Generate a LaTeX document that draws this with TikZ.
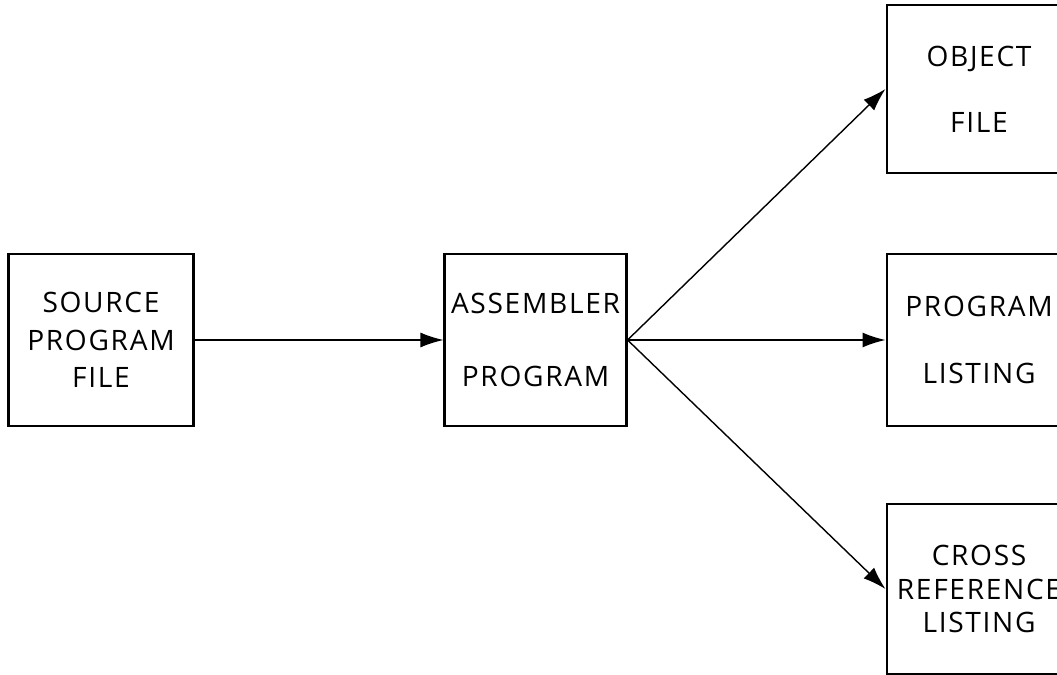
\documentclass[tikz,border=0pt]{standalone}
\usepackage{fontspec}
\setmainfont{Open Sans}[LetterSpace=6]
\usetikzlibrary{arrows.meta, positioning}

\begin{document}
\begin{tikzpicture}[
    x=0.02cm, y=-0.02cm,
    node distance=1.5cm,
    box/.style={draw, line width=1.2pt, minimum width=3.7cm, minimum height=3.44cm, inner sep=0pt, align=center, font=\fontsize{16}{21.5}\selectfont},
    flow/.style={-{Latex[length=0.46cm, width=0.3cm]}, line width=0.8pt}
]
\useasboundingbox (0,0) rectangle (1057,675);
\clip (0,0) rectangle (1057,675);

% Input
\node[box] (src) at (101,340) {SOURCE\\PROGRAM\\FILE};

% Assembler
\node[box, minimum width=3.64cm, right=4.98cm of src] (asm) {ASSEMBLER\\[0.72cm]PROGRAM};

% Outputs
\node[box, right=5.16cm of asm] (lst) {PROGRAM\\[0.58cm]LISTING};
\node[box, minimum height=3.36cm, above=1.58cm of lst] (obj) {OBJECT\\[0.56cm]FILE};
\node[box, minimum height=3.4cm, below=1.52cm of lst] (xref) {CROSS\\[-0.08cm]REFERENCE\\[-0.08cm]LISTING};

% Arrows
\draw[flow] (src) -- (asm);
\draw[flow] (asm.east) -- (obj.west);
\draw[flow] (asm.east) -- (lst.west);
\draw[flow] (asm.east) -- (xref.west);
\end{tikzpicture}
\end{document}
